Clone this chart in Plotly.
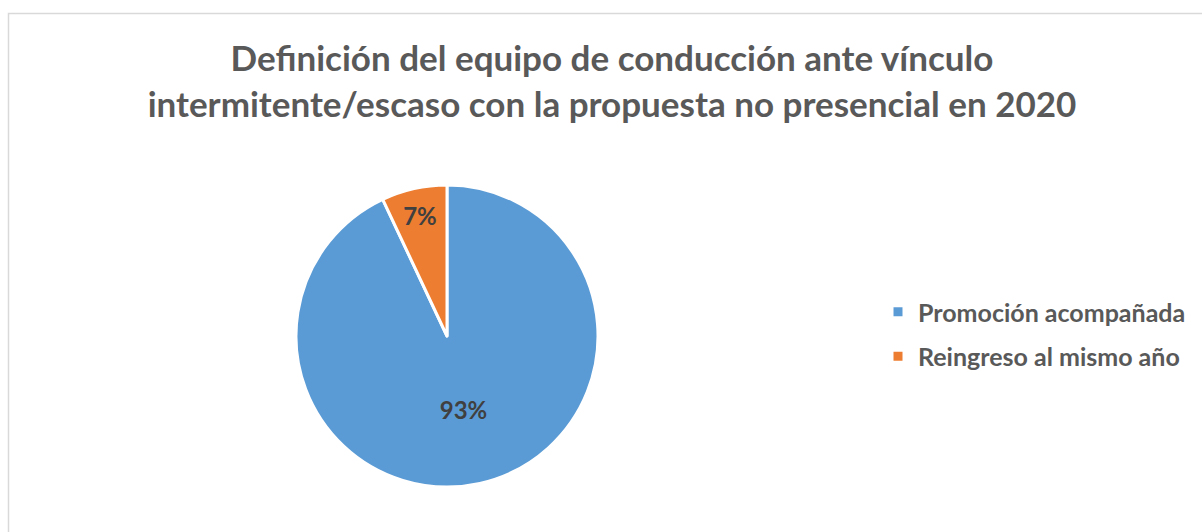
import plotly.graph_objects as go

labels = ["Promoción acompañada", "Reingreso al mismo año"]
values = [93, 7]
colors = ["#5B9BD5", "#ED7D31"]
title_text = "Definición del equipo de conducción ante vínculo<br>intermitente/escaso con la propuesta no presencial en 2020"

W, H = 1202, 532
FONT = "Lato"

fig = go.Figure()
fig.add_trace(go.Pie(
    labels=labels, values=values, sort=False, direction="clockwise", rotation=0,
    marker=dict(colors=colors, line=dict(color="white", width=3)),
    texttemplate="%{percent:.0%}", textposition="inside", insidetextorientation="horizontal",
    textfont=dict(family=FONT, size=24, color="#404040", weight="bold"),
    showlegend=False, hoverinfo="label+percent",
    domain=dict(x=[296 / W, 598 / W], y=[45 / H, 347 / H]),
))
for i, (lab, col) in enumerate(zip(labels, colors)):
    fig.add_trace(go.Scatter(
        x=[None], y=[None], mode="markers", name=lab, legendgroup=f"g{i}",
        marker=dict(symbol="square", size=9, color=col),
    ))

fig.update_layout(
    width=W, height=H,
    margin=dict(l=0, r=0, t=0, b=0),
    paper_bgcolor="white", plot_bgcolor="white",
    title=dict(text=title_text, x=612 / W, xanchor="center", y=1 - 71 / H, yanchor="top",
               font=dict(family=FONT, size=35, color="#595959", weight="bold")),
    xaxis=dict(visible=False), yaxis=dict(visible=False),
    legend=dict(x=878 / W, xanchor="left", y=1 - 289 / H, yanchor="top",
                font=dict(family=FONT, size=25, color="#595959", weight="bold"),
                tracegroupgap=9, bgcolor="rgba(0,0,0,0)"),
    shapes=[dict(type="rect", xref="paper", yref="paper",
                 x0=8.5 / W, x1=1.2, y0=-0.2, y1=1 - 13.5 / H,
                 line=dict(color="#D9D9D9", width=1.5), layer="below")],
)

fig.write_html("out.html", config={"displayModeBar": False},
               post_script="document.body.style.margin='0';")
